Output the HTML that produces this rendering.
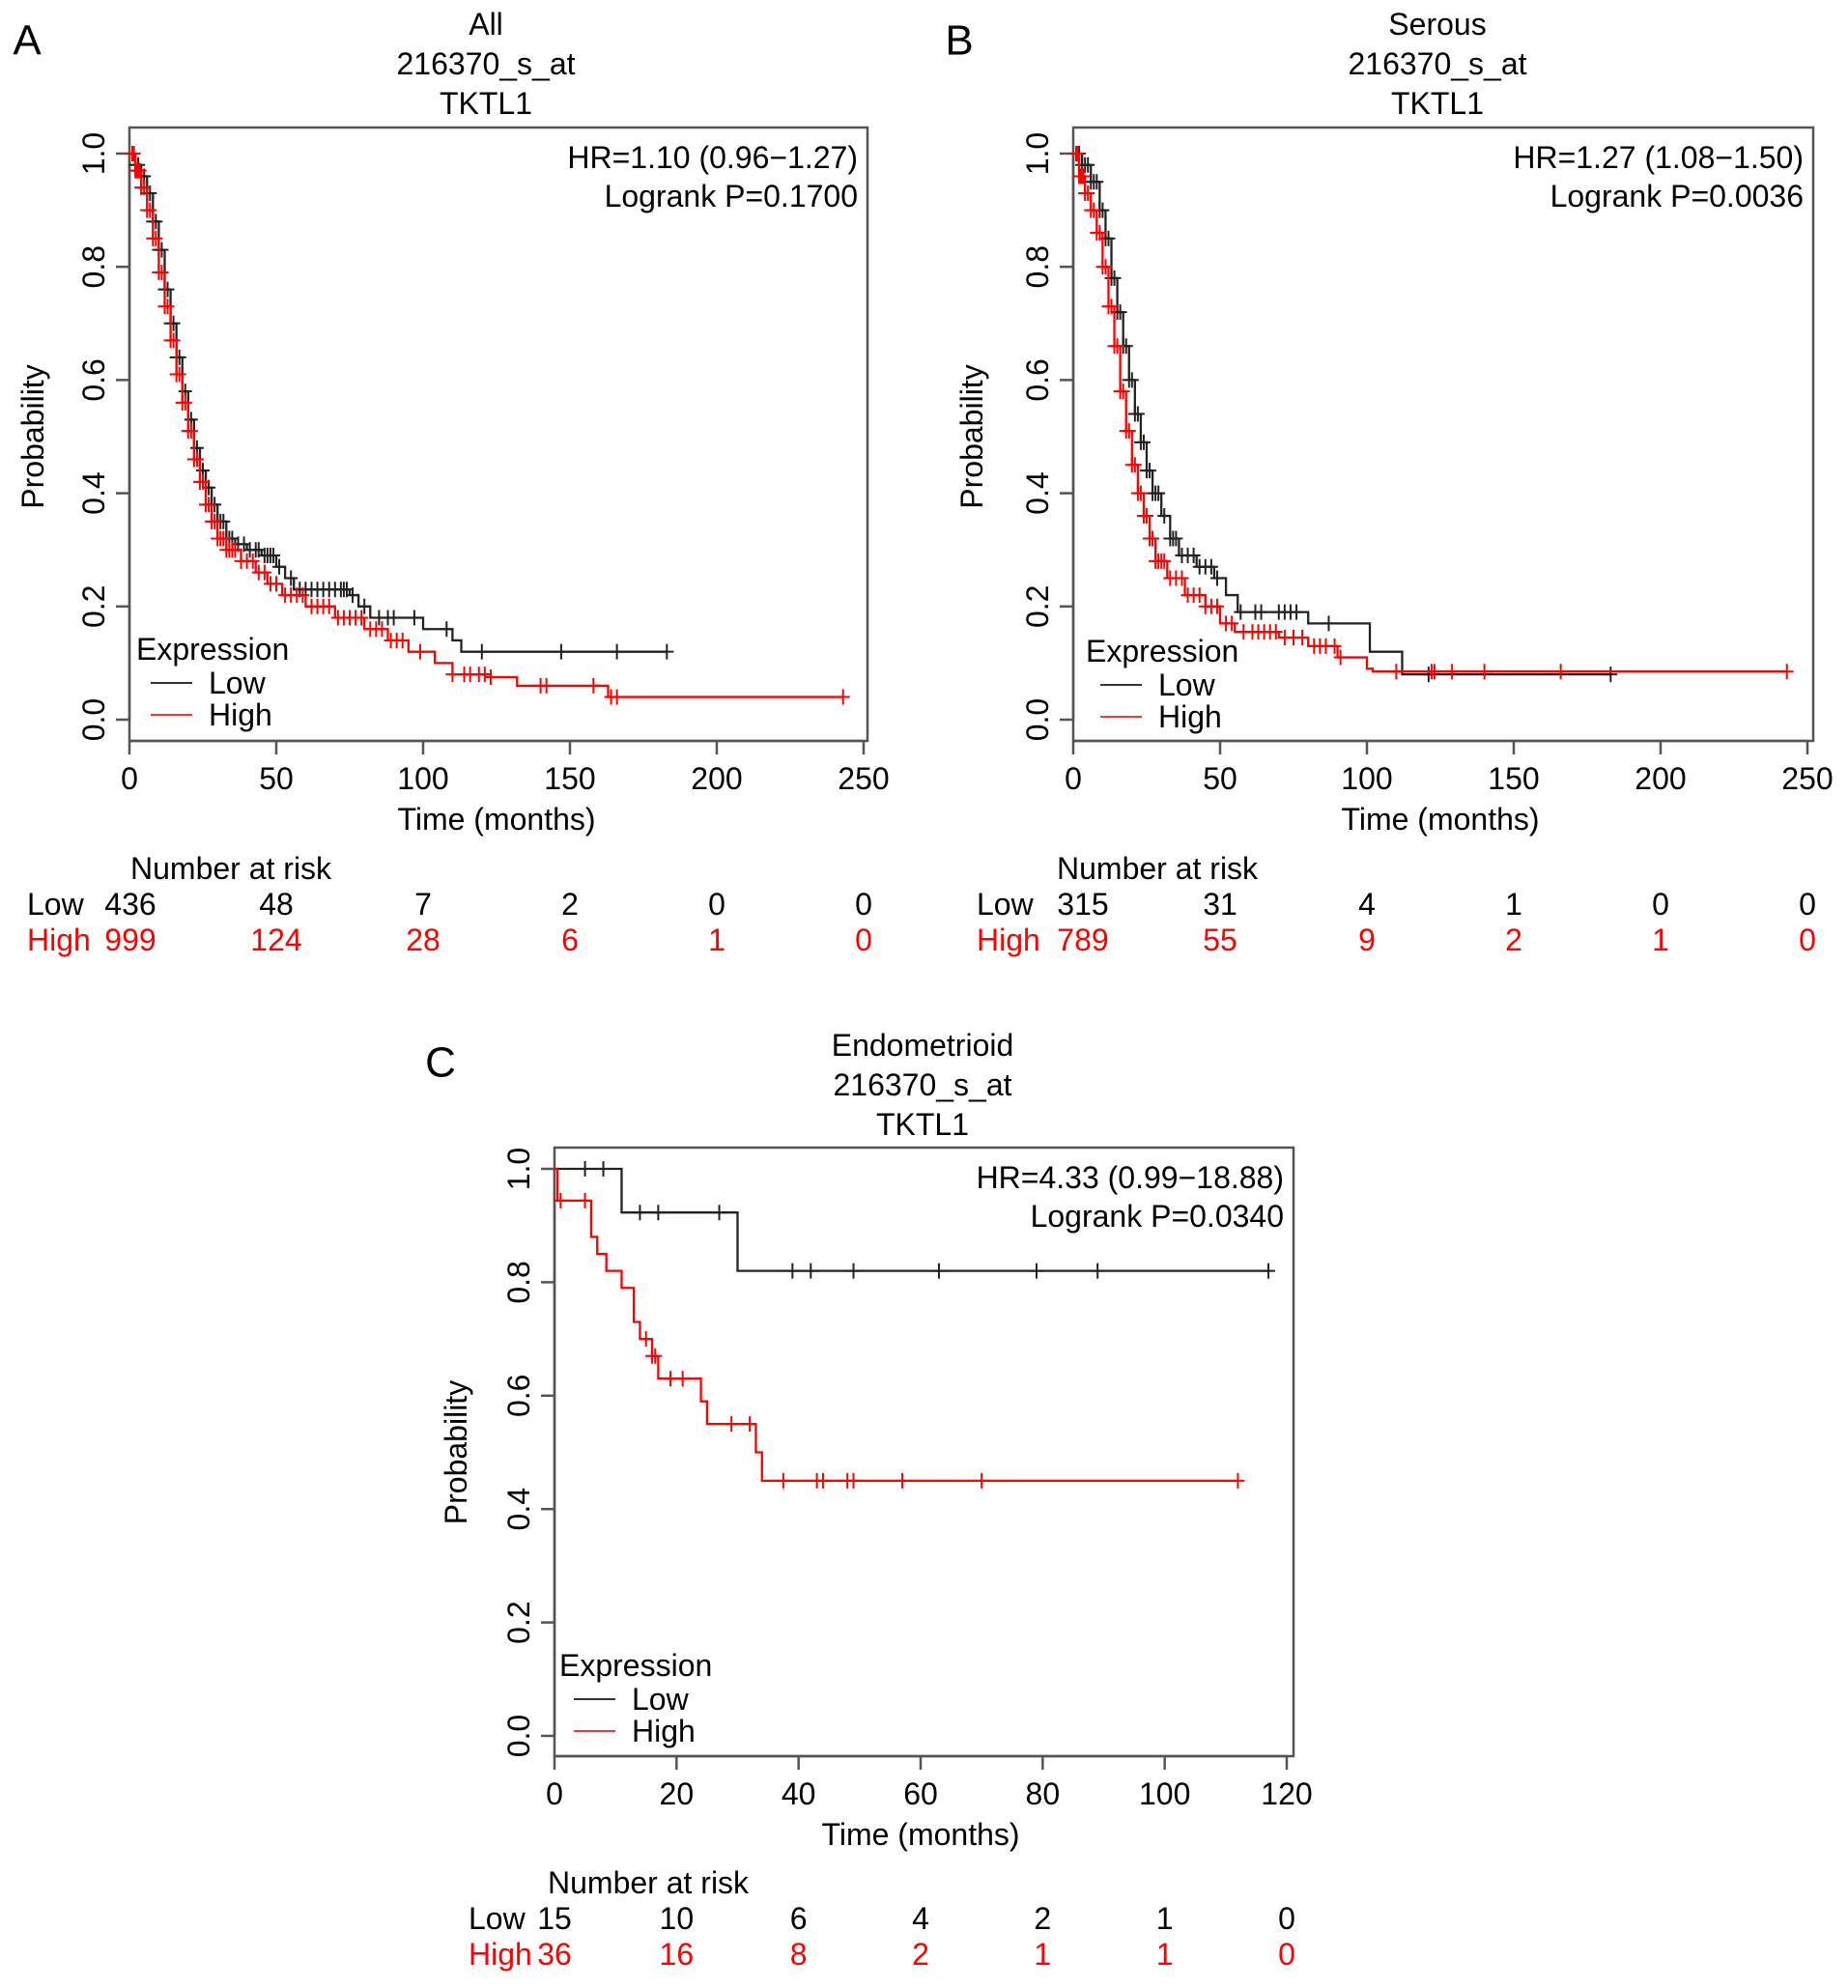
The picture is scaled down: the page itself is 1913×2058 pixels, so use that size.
<!DOCTYPE html>
<html><head><meta charset="utf-8">
<style>
html,body{margin:0;padding:0;background:#fff;}
svg{display:block;font-family:"Liberation Sans",sans-serif;}
</style></head>
<body>
<svg id="fig" width="1913" height="2058" viewBox="0 0 1913 2058" xmlns="http://www.w3.org/2000/svg"></svg>
<script>
// ---------- Panel A (All) ----------
const aLowT = [0,2,4,6,8,10,12,14,16,18,20,22,24,26,28,30,33,36,40,45,50,53,56,75,78,82,100,110,113];
const aLowS = [1,0.98,0.96,0.93,0.88,0.83,0.76,0.70,0.64,0.58,0.53,0.48,0.44,0.41,0.38,0.35,0.32,0.31,0.30,0.29,0.27,0.25,0.23,0.22,0.20,0.18,0.16,0.14,0.12];
const aLowEnd = 183;
const aLowCens = [1,2,3,4,5,6,7,8,9,10,11,12,13,14,15,16,17,19,21,23,25,27,29,31,32,34,35,37,39,41,43,44,46,47,48,49,51,55,58,60,62,64,66,68,70,72,73,74,76,80,85,88,90,97,108,120,147,166,183];
const aHighT = [0,2,4,6,8,10,12,14,16,18,20,22,24,26,28,30,33,38,43,47,52,60,70,80,88,95,104,110,123,132,163];
const aHighS = [1,0.97,0.94,0.90,0.85,0.79,0.73,0.67,0.61,0.56,0.51,0.46,0.42,0.38,0.35,0.32,0.30,0.28,0.26,0.24,0.22,0.20,0.18,0.16,0.14,0.12,0.10,0.08,0.075,0.06,0.04];
const aHighEnd = 243;
const aHighCens = [1,1.5,2,2.5,3,3.5,4,5,6,7,8,9,10,11,12,13,14,15,16,17,18,19,20,21,22,23,24,25,26,27,28,29,30,31,32,33,34,35,36,38,40,42,44,46,48,50,53,55,57,59,62,64,66,68,71,73,75,77,79,82,84,86,89,91,93,99,110,114,116,119,121,123,140,142,158,164,166,243];
const aRiskLow = ["436","48","7","2","0","0"];
const aRiskHigh = ["999","124","28","6","1","0"];
// ---------- Panel B (Serous) ----------
const bLowT = [0,3,6,9,11,13,15,17,19,21,23,25,27,30,33,36,42,48,52,56,80,101,112];
const bLowS = [1,0.98,0.95,0.90,0.85,0.78,0.72,0.66,0.60,0.54,0.49,0.44,0.40,0.36,0.32,0.29,0.27,0.25,0.22,0.19,0.17,0.12,0.08];
const bLowEnd = 183;
const bLowCens = [1,2,3,4,5,6,7,8,9,10,11,12,13,14,15,16,17,18,19,20,21,22,23,24,25,26,27,28,29,31,33,34,35,37,39,41,43,45,47,49,57,62,64,70,72,74,76,87,121,183];
const bHighT = [0,2,4,6,8,10,12,14,16,18,20,22,24,26,28,32,38,45,50,55,70,80,90,100,102];
const bHighS = [1,0.96,0.93,0.90,0.86,0.80,0.73,0.66,0.58,0.51,0.45,0.40,0.36,0.32,0.28,0.25,0.22,0.20,0.17,0.155,0.145,0.13,0.11,0.09,0.085];
const bHighEnd = 243;
const bHighCens = [1,1.5,2,2.5,3,3.5,4,5,6,7,8,9,10,11,12,13,14,15,16,17,18,19,20,21,22,23,24,25,26,27,28,29,30,31,33,35,37,39,41,43,45,47,49,52,54,58,61,63,65,67,69,72,75,78,82,84,86,89,91,110,122,123,129,140,166,243];
const bRiskLow = ["315","31","4","1","0","0"];
const bRiskHigh = ["789","55","9","2","1","0"];
// ---------- Panel C (Endometrioid) ----------
const cLowT = [0,11,30];
const cLowS = [1,0.923,0.82];
const cLowEnd = 117;
const cLowCens = [5,8,14,17,27,39,42,49,63,79,89,117];
const cHighT = [0,0.5,6,7,8.5,11,13,14,16,17,24,25,33,34];
const cHighS = [1,0.944,0.88,0.85,0.82,0.79,0.73,0.70,0.67,0.63,0.59,0.55,0.50,0.45];
const cHighEnd = 112;
const cHighCens = [1,5,15,16,16.5,19,21,29,32,37.5,43,44,48,49,57,70,112];
const cRiskLow = ["15","10","6","4","2","1","0"];
const cRiskHigh = ["36","16","8","2","1","1","0"];

const NS = "http://www.w3.org/2000/svg";
const svg = document.getElementById('fig');
const FS = 32;
function el(tag, attrs, parent){
  const e = document.createElementNS(NS, tag);
  for (const k in attrs) e.setAttribute(k, attrs[k]);
  (parent||svg).appendChild(e);
  return e;
}
function txt(s, x, y, size, anchor, fill, parent, rot){
  const t = el('text', {x:x, y:y, 'font-size':size, 'text-anchor':anchor||'middle', fill:fill||'#000', 'dominant-baseline':'central'}, parent);
  if (rot) t.setAttribute('transform', 'rotate(-90 '+x+' '+y+')');
  t.textContent = s;
  return t;
}
function survAt(T,S,t){ let v=S[0]; for(let i=0;i<T.length;i++){ if(T[i]<=t) v=S[i]; } return v; }

function panel(cfg){
  const g = el('g', {});
  
  
  const X = t => cfg.x0 + (t - 0) / cfg.xmax * (cfg.x1 - cfg.x0);
  const Y = p => cfg.y0 + p * (cfg.y1 - cfg.y0);
  const box = el('rect', {x:cfg.bx0, y:cfg.by0, width:cfg.bx1-cfg.bx0, height:cfg.by1-cfg.by0, fill:'none', stroke:'#555', 'stroke-width':2.5}, g);
  
  
  const L = txt(cfg.letter, cfg.letterX, cfg.letterY, 44, 'middle', '#000', g);
  
  
  cfg.title.forEach((s,i)=>{
    const t = txt(s, cfg.titleX, cfg.titleY + i*41, FS, 'middle', '#000', g);
    
    
  });
  el('line', {x1:cfg.bx0, x2:cfg.bx0, y1:Y(0), y2:Y(1), stroke:'#555','stroke-width':2.5}, g);
  [0,0.2,0.4,0.6,0.8,1.0].forEach(v=>{
    el('line', {x1:cfg.bx0-14, x2:cfg.bx0, y1:Y(v), y2:Y(v), stroke:'#555','stroke-width':2.5}, g);
    const t = txt(v.toFixed(1), cfg.bx0-37, Y(v), FS, 'middle', '#000', g, true);
    
    
  });
  const yl = txt('Probability', cfg.ylabX, (Y(0)+Y(1))/2, FS, 'middle', '#000', g, true);
  
  
  el('line', {x1:X(0), x2:X(cfg.xmax), y1:cfg.by1, y2:cfg.by1, stroke:'#555','stroke-width':2.5}, g);
  cfg.xticks.forEach(v=>{
    el('line', {x1:X(v), x2:X(v), y1:cfg.by1, y2:cfg.by1+14, stroke:'#555','stroke-width':2.5}, g);
    const t = txt(String(v), X(v), cfg.by1+39, FS, 'middle', '#000', g);
    
    
  });
  const xl = txt('Time (months)', (X(0)+X(cfg.xmax))/2, cfg.by1+81, FS, 'middle', '#000', g);
  
  
  function curve(T,S,end,cens,color,nm){
    let d = 'M'+X(T[0])+','+Y(S[0]);
    for (let i=1;i<T.length;i++){ d += ' H'+X(T[i])+' V'+Y(S[i]); }
    d += ' H'+X(end);
    const p = el('path', {d:d, fill:'none', stroke:color, 'stroke-width':2.3}, g);
    
    
    cens.forEach(c=>{
      const cx = X(c), cy = Y(survAt(T,S,c));
      const m = el('path', {d:'M'+cx+','+(cy-8)+' V'+(cy+8)+' M'+(cx-7)+','+cy+' H'+(cx+7), stroke:color, 'stroke-width':2, fill:'none'}, g);
      
      
    });
  }
  curve(cfg.lowT, cfg.lowS, cfg.lowEnd, cfg.lowCens, '#222', 'low');
  curve(cfg.highT, cfg.highS, cfg.highEnd, cfg.highCens, '#f00', 'high');
  const h1 = txt(cfg.hr, cfg.bx1-10, cfg.by0+31, FS, 'end', '#000', g);
  
  
  const h2 = txt(cfg.p, cfg.bx1-10, cfg.by0+71, FS, 'end', '#000', g);
  
  
  const lg = el('g', {}, g);
  
  
  txt('Expression', cfg.legX, cfg.legY, FS, 'start', '#000', lg);
  el('line', {x1:cfg.legX+15, x2:cfg.legX+58, y1:cfg.legY+35, y2:cfg.legY+35, stroke:'#333','stroke-width':2}, lg);
  txt('Low', cfg.legX+75, cfg.legY+35, FS, 'start', '#000', lg);
  el('line', {x1:cfg.legX+15, x2:cfg.legX+58, y1:cfg.legY+68, y2:cfg.legY+68, stroke:'#f33','stroke-width':2}, lg);
  txt('High', cfg.legX+75, cfg.legY+68, FS, 'start', '#000', lg);
  const rt = el('g', {}, g);
  
  
  txt('Number at risk', cfg.riskTitleX, cfg.riskY, FS, 'start', '#000', rt);
  txt('Low', cfg.riskLabX, cfg.riskY+37, FS, 'start', '#000', rt);
  txt('High', cfg.riskLabX, cfg.riskY+74, FS, 'start', '#f00', rt);
  cfg.xticks.forEach((v,i)=>{
    let x = X(v); if (i===0) x += cfg.firstOff;
    txt(cfg.riskLow[i], x, cfg.riskY+37, FS, 'middle', '#000', rt);
    txt(cfg.riskHigh[i], x, cfg.riskY+74, FS, 'middle', '#f00', rt);
  });
}

panel({name:'panel-a-all', letter:'A', letterX:28, letterY:42, title:['All','216370_s_at','TKTL1'], titleX:503, titleY:25,
  bx0:134, bx1:898, by0:132, by1:767, x0:134, x1:894, xmax:250, y0:745, y1:159, ylabX:34,
  xticks:[0,50,100,150,200,250], lowT:aLowT, lowS:aLowS, lowEnd:aLowEnd, lowCens:aLowCens,
  highT:aHighT, highS:aHighS, highEnd:aHighEnd, highCens:aHighCens,
  hr:'HR=1.10 (0.96\u22121.27)', p:'Logrank P=0.1700', legX:141, legY:672,
  riskTitleX:135, riskY:899, riskLabX:28, firstOff:1, riskLow:aRiskLow, riskHigh:aRiskHigh});
panel({name:'panel-b-serous', letter:'B', letterX:993, letterY:42, title:['Serous','216370_s_at','TKTL1'], titleX:1488, titleY:25,
  bx0:1111, bx1:1877, by0:132, by1:767, x0:1111, x1:1871, xmax:250, y0:745, y1:159, ylabX:1006,
  xticks:[0,50,100,150,200,250], lowT:bLowT, lowS:bLowS, lowEnd:bLowEnd, lowCens:bLowCens,
  highT:bHighT, highS:bHighS, highEnd:bHighEnd, highCens:bHighCens,
  hr:'HR=1.27 (1.08\u22121.50)', p:'Logrank P=0.0036', legX:1124, legY:674,
  riskTitleX:1094, riskY:899, riskLabX:1011, firstOff:10, riskLow:bRiskLow, riskHigh:bRiskHigh});
panel({name:'panel-c-endometrioid', letter:'C', letterX:456, letterY:1100, title:['Endometrioid','216370_s_at','TKTL1'], titleX:955, titleY:1082,
  bx0:574, bx1:1339, by0:1188, by1:1818, x0:574, x1:1332, xmax:120, y0:1797, y1:1210, ylabX:472,
  xticks:[0,20,40,60,80,100,120], lowT:cLowT, lowS:cLowS, lowEnd:cLowEnd, lowCens:cLowCens,
  highT:cHighT, highS:cHighS, highEnd:cHighEnd, highCens:cHighCens,
  hr:'HR=4.33 (0.99\u221218.88)', p:'Logrank P=0.0340', legX:579, legY:1724,
  riskTitleX:567, riskY:1949, riskLabX:485, firstOff:0, riskLow:cRiskLow, riskHigh:cRiskHigh});
</script>
</body></html>
